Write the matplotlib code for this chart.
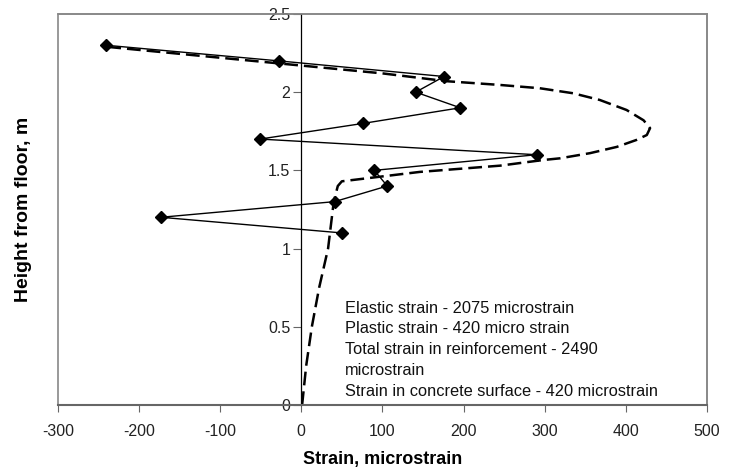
import matplotlib as mpl
mpl.use('Agg')
import matplotlib.pyplot as plt
from matplotlib.patches import Rectangle

# measured strain gauge readings along the height
strain = [-241, -28, 176, 141, 196, 76, -51, 290, 90, 106, 41, -173, 50]
height = [2.3, 2.2, 2.1, 2.0, 1.9, 1.8, 1.7, 1.6, 1.5, 1.4, 1.3, 1.2, 1.1]

# dashed envelope curve
env_strain = [1, 6, 13, 22, 33, 40, 45, 50, 146, 245, 298, 319, 356, 389, 413, 426,
              430, 422, 401, 368, 335, 294, 245, 179, 100, 0, -100, -240]
env_height = [0, 0.25, 0.5, 0.75, 1.0, 1.3, 1.40, 1.43, 1.49, 1.53, 1.566, 1.577, 1.61,
              1.65, 1.694, 1.726, 1.77, 1.82, 1.886, 1.95, 1.993, 2.025, 2.046, 2.07,
              2.12, 2.17, 2.22, 2.29]

notes = ["Elastic strain - 2075 microstrain",
         "Plastic strain - 420 micro strain",
         "Total strain in reinforcement - 2490",
         "microstrain",
         "Strain in concrete surface - 420 microstrain"]

plt.rcParams['font.family'] = ['Liberation Sans', 'DejaVu Sans']
plt.rcParams['axes.unicode_minus'] = False

fig = plt.figure(figsize=(7.34, 4.74), dpi=100)
ax = fig.add_axes([0.079, 0.1456, 0.884, 0.825])

ax.plot(env_strain, env_height, color='black', lw=1.8, dashes=(5.5, 2.4), zorder=2)
ax.plot(strain, height, color='black', lw=1.0, marker='D', markersize=6.5, zorder=3)

ax.set_xlim(-300, 500)
ax.set_ylim(0, 2.5)
ax.set_xticks(range(-300, 501, 100))
ax.set_yticks([0, 0.5, 1, 1.5, 2, 2.5])
ax.set_yticklabels(['0', '0.5', '1', '1.5', '2', '2.5'])

# y axis drawn through zero, grey frame around the plot area
ax.spines['left'].set_position(('data', 0))
ax.spines['left'].set_color('black')
ax.spines['left'].set_linewidth(0.9)
for s in ['top', 'right']:
    ax.spines[s].set_color('#888888')
    ax.spines[s].set_linewidth(1.2)
ax.spines['bottom'].set_color('#666666')
ax.spines['bottom'].set_linewidth(1.5)
ax.add_patch(Rectangle((0, 0), 1, 1, transform=ax.transAxes, fill=False,
                       ec='#888888', lw=1.2, clip_on=False, zorder=0))

ax.tick_params(axis='x', direction='out', length=5, color='#666666',
               labelsize=11.5, labelcolor='#222222', pad=9)
ax.tick_params(axis='y', direction='out', length=6, color='#666666',
               labelsize=11.5, labelcolor='#222222', pad=2)

ax.set_xlabel('Strain, microstrain', fontsize=13, fontweight='bold', labelpad=8)
ax.set_ylabel('Height from floor, m', fontsize=14, fontweight='bold', labelpad=0)
ax.yaxis.set_label_coords(-0.04, 0.5)

for i, line in enumerate(notes):
    ax.text(54, 0.62 - i * 0.133, line, fontsize=11.8, color='#111111',
            va='center', ha='left')

plt.savefig('out.png', dpi=100)
